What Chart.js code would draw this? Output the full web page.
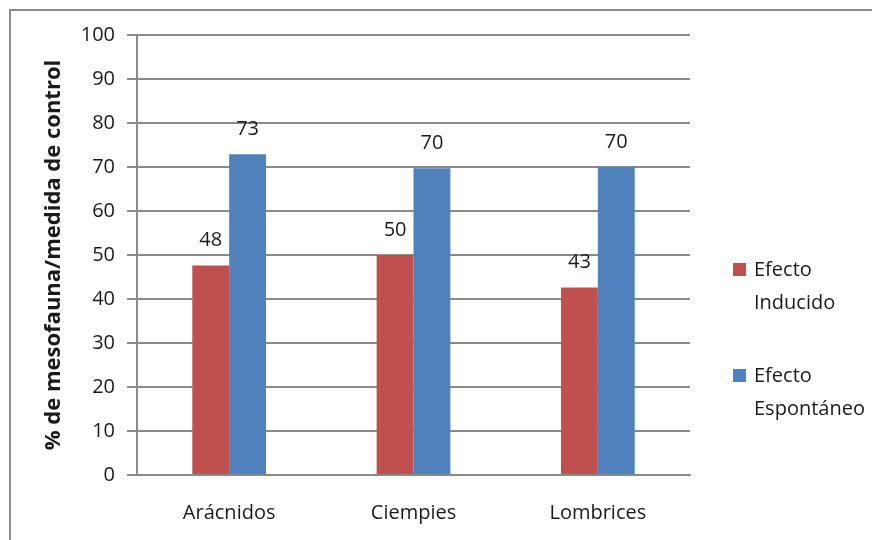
<!DOCTYPE html>
<html><head><meta charset="utf-8">
<script src="https://cdn.jsdelivr.net/npm/chart.js@4/dist/chart.umd.min.js"></script>
<style>html,body{margin:0;padding:0;background:#fff;}canvas{display:block;}</style>
</head><body>
<canvas id="c" width="872" height="540"></canvas>
<script>
const categories = ['Arácnidos', 'Ciempies', 'Lombrices'];
const seriesNames = [['Efecto', 'Inducido'], ['Efecto', 'Espontáneo']];
const inducido = [47.6, 50, 42.6];
const espontaneo = [72.9, 69.7, 70];
const yTitle = '% de mesofauna/medida de control';
const FONT = '"Open Sans", "Noto Sans", sans-serif';

const framePlugin = {
  id: 'frame',
  beforeDraw(chart) {
    const ctx = chart.ctx;
    ctx.save();
    ctx.strokeStyle = '#8a8a8a';
    ctx.lineWidth = 2;
    ctx.strokeRect(10, 10, 1000, 1000);
    ctx.restore();
  }
};

const valueLabels = {
  id: 'valueLabels',
  afterDatasetsDraw(chart) {
    const ctx = chart.ctx;
    ctx.save();
    ctx.font = '20px ' + FONT;
    ctx.fillStyle = '#1a1a1a';
    ctx.textAlign = 'center';
    ctx.textBaseline = 'middle';
    chart.data.datasets.forEach((ds, i) => {
      chart.getDatasetMeta(i).data.forEach((bar, j) => {
        ctx.fillText(String(Math.round(ds.data[j])), bar.x, bar.y - 25);
      });
    });
    ctx.restore();
  }
};

const sideLegend = {
  id: 'sideLegend',
  afterDraw(chart) {
    const ctx = chart.ctx;
    ctx.save();
    ctx.font = '20px ' + FONT;
    ctx.textAlign = 'left';
    ctx.textBaseline = 'middle';
    const tops = [270, 376];
    chart.data.datasets.forEach((ds, i) => {
      const y = tops[i];
      ctx.fillStyle = ds.backgroundColor;
      ctx.fillRect(733, y - 7, 13, 13);
      ctx.fillStyle = '#1a1a1a';
      seriesNames[i].forEach((line, k) => {
        ctx.fillText(line, 754, y + k * 33);
      });
    });
    ctx.restore();
  }
};

new Chart(document.getElementById('c'), {
  type: 'bar',
  data: {
    labels: categories,
    datasets: [
      { label: seriesNames[0].join(' '), data: inducido, backgroundColor: '#C0504D' },
      { label: seriesNames[1].join(' '), data: espontaneo, backgroundColor: '#4F81BD' }
    ]
  },
  options: {
    responsive: false,
    animation: false,
    events: [],
    layout: { padding: { left: 0, right: 182, top: 35, bottom: 0 } },
    datasets: { bar: { categoryPercentage: 0.4, barPercentage: 1.0 } },
    plugins: { legend: { display: false }, tooltip: { enabled: false } },
    scales: {
      x: {
        grid: { display: false, drawTicks: false },
        border: { display: true, color: '#8a8a8a', width: 2 },
        ticks: { font: { family: FONT, size: 20 }, color: '#1a1a1a', padding: 26 },
        afterFit(s) { s.height = 65; }
      },
      y: {
        min: 0, max: 100,
        ticks: { stepSize: 10, font: { family: FONT, size: 20 }, color: '#1a1a1a', padding: 12 },
        grid: { color: '#8a8a8a', lineWidth: 2, tickLength: 10 },
        border: { display: true, color: '#8a8a8a', width: 2 },
        title: { display: true, text: yTitle, font: { family: FONT, size: 22, weight: 'bold' }, color: '#1a1a1a', padding: { top: 41, bottom: 0 } },
        afterFit(s) { s.width = 137; }
      }
    }
  },
  plugins: [framePlugin, valueLabels, sideLegend]
});
</script>
</body></html>
